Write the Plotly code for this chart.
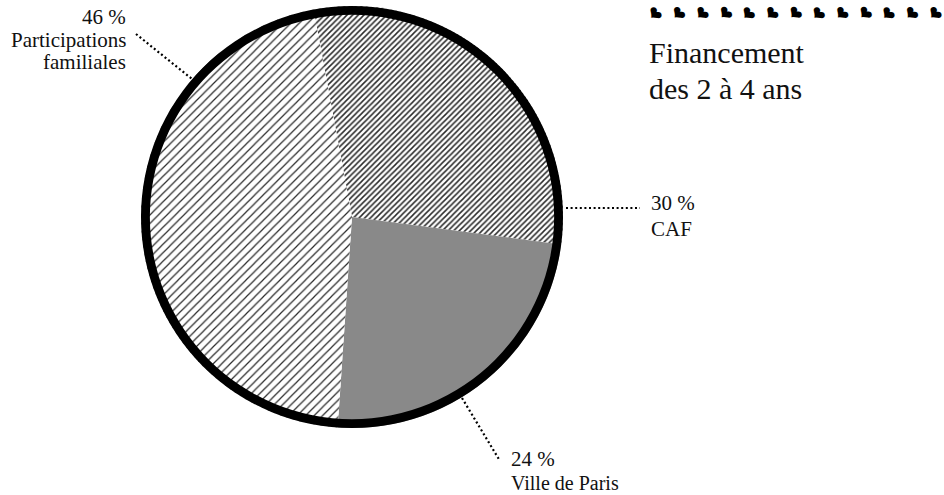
import plotly.graph_objects as go

# ---- data ----
categories = ["CAF", "Ville de Paris", "Participations familiales"]
values = [30, 24, 46]
value_labels = ["30 %", "24 %", "46 %"]
label_lines = [["CAF"], ["Ville de Paris"], ["Participations", "familiales"]]
title_lines = ["Financement", "des 2 à 4 ans"]

W, H = 944, 495
FONT = "Liberation Serif"


def px(x, y):
    return x / W, 1 - y / H


# pie placement (pixel box)
cx, cy, r = 352, 217, 211
dom_x = [(cx - r) / W, (cx + r) / W]
dom_y = [1 - (cy + r) / H, 1 - (cy - r) / H]

fig = go.Figure()
fig.add_trace(go.Pie(
    labels=categories,
    values=values,
    sort=False,
    direction="clockwise",
    rotation=-10.5,
    textinfo="none",
    hoverinfo="label+percent",
    domain=dict(x=dom_x, y=dom_y),
    marker=dict(
        colors=["white", "#898989", "white"],
        line=dict(width=0),
        pattern=dict(
            shape=["/", "", "/"],
            fgcolor=["#2a2a2a", "#898989", "#2a2a2a"],
            bgcolor=["white", "#898989", "white"],
            size=[4, 8, 6],
            solidity=[0.38, 0.5, 0.2],
            fillmode="replace",
        ),
    ),
))
# outer black ring
fig.add_trace(go.Pie(
    labels=["ring"],
    values=[1],
    hole=0.958,
    textinfo="none",
    hoverinfo="skip",
    sort=False,
    domain=dict(x=dom_x, y=dom_y),
    marker=dict(colors=["black"], line=dict(width=0)),
))

annotations = []


def text(x, y, s, size=21, anchor="left"):
    ax, ay = px(x, y)
    annotations.append(dict(
        x=ax, y=ay, xref="paper", yref="paper", text=s, showarrow=False,
        xanchor=anchor, yanchor="middle",
        font=dict(family=FONT, size=size, color="#111111"),
    ))


# labels
text(128, 17, value_labels[2], anchor="right")
text(128, 40, label_lines[2][0], anchor="right")
text(128, 62, label_lines[2][1], anchor="right")
text(649, 203, value_labels[0])
text(649, 229, label_lines[0][0])
text(509, 459, value_labels[1])
text(509, 483, label_lines[1][0], size=20)

# title
text(647, 52, title_lines[0], size=30)
text(647, 88, title_lines[1], size=30)

# decorative bullet row
for i in range(13):
    gx, gy = px(655 + i * 23.3, 13)
    annotations.append(dict(
        x=gx, y=gy, xref="paper", yref="paper", text="❥", showarrow=False,
        xanchor="center", yanchor="middle", textangle=135,
        font=dict(family="DejaVu Sans", size=18, color="black"),
    ))

# dotted leader lines
shapes = []
for (x0, y0, x1, y1) in [(136, 34, 192, 79), (566, 208, 640, 208), (462, 398, 500, 461)]:
    a0, b0 = px(x0, y0)
    a1, b1 = px(x1, y1)
    shapes.append(dict(
        type="line", xref="paper", yref="paper", x0=a0, y0=b0, x1=a1, y1=b1,
        line=dict(color="black", width=2.2, dash="2px,2.6px"),
    ))

fig.update_layout(
    width=W, height=H,
    margin=dict(l=0, r=0, t=0, b=0),
    showlegend=False,
    paper_bgcolor="white",
    plot_bgcolor="white",
    annotations=annotations,
    shapes=shapes,
)

fig.write_html(
    "out.html",
    config={"displayModeBar": False},
    post_script="document.body.style.margin='0px';document.body.style.overflow='hidden';",
)
